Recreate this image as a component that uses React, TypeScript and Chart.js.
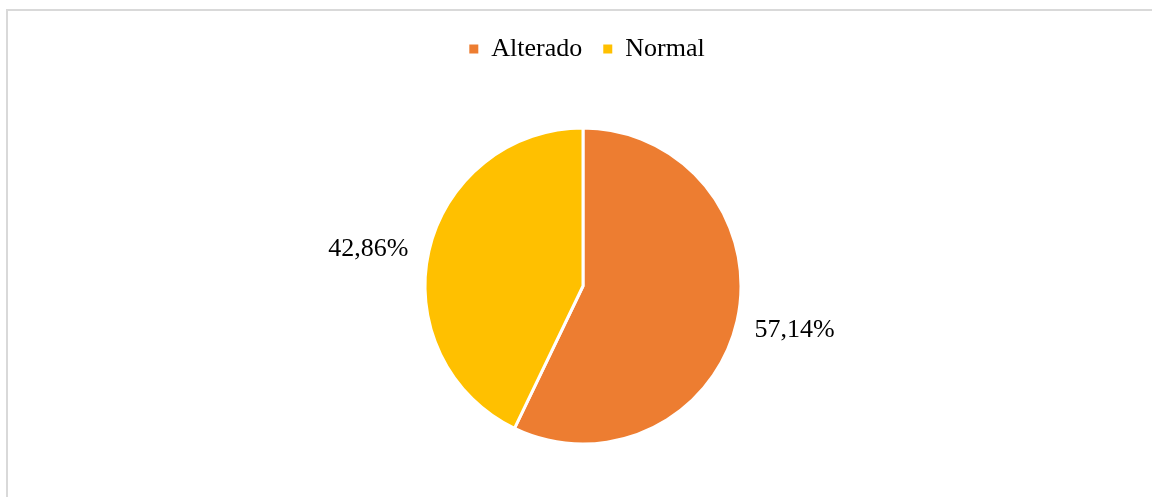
import React, { useEffect, useRef } from "react";
import { Chart, registerables } from "chart.js";

Chart.register(...registerables);

const categories = ["Alterado", "Normal"];
const values = [57.14, 42.86];
const valueLabels = ["57,14%", "42,86%"];
const colors = ["#ED7D31", "#FFC000"];

const FONT = "'Liberation Serif', 'Times New Roman', serif";

const outsideLabels = {
  id: "outsideLabels",
  afterLayout(chart: any) {
    if (chart.legend) {
      chart.legend.left += 4;
      chart.legend.right += 4;
    }
  },
  afterDatasetsDraw(chart: any) {
    const { ctx } = chart;
    const meta = chart.getDatasetMeta(0);
    ctx.save();
    ctx.font = `26px ${FONT}`;
    ctx.fillStyle = "#000000";
    ctx.textBaseline = "middle";
    meta.data.forEach((arc: any, i: number) => {
      const { x, y, startAngle, endAngle, outerRadius } = arc.getProps(
        ["x", "y", "startAngle", "endAngle", "outerRadius"],
        true
      );
      const mid = (startAngle + endAngle) / 2;
      const d = outerRadius + 19;
      const lx = x + Math.cos(mid) * d;
      const ly = y + Math.sin(mid) * d + (Math.sin(mid) >= 0 ? 5 : 3);
      ctx.textAlign = Math.cos(mid) >= 0 ? "left" : "right";
      ctx.fillText(valueLabels[i], lx + (Math.cos(mid) >= 0 ? -1 : -2), ly);
    });
    ctx.restore();
  },
};

export default function App() {
  const ref = useRef<HTMLCanvasElement | null>(null);

  useEffect(() => {
    if (!ref.current) return;
    const chart = new Chart(ref.current, {
      type: "pie",
      data: {
        labels: categories,
        datasets: [
          {
            data: values,
            backgroundColor: colors,
            borderColor: "#FFFFFF",
            borderWidth: 3,
            radius: 158,
          } as any,
        ],
      },
      options: {
        animation: false,
        responsive: false,
        maintainAspectRatio: false,
        layout: { padding: { left: 14, top: 15, right: 0, bottom: 0 } },
        plugins: {
          legend: {
            position: "top",
            labels: {
              font: { family: FONT, size: 26 },
              color: "#000000",
              boxWidth: 9,
              boxHeight: 9,
              padding: 21,
              generateLabels(chart: any) {
                const items = Chart.overrides.pie.plugins.legend.labels.generateLabels(chart);
                return items.map((it: any) => ({ ...it, lineWidth: 0, strokeStyle: it.fillStyle }));
              },
            },
          },
          tooltip: { enabled: false },
        },
      },
      plugins: [outsideLabels],
    });
    return () => chart.destroy();
  }, []);

  return (
    <div
      style={{
        position: "fixed",
        left: 0,
        top: 0,
        width: 1152,
        height: 497,
        overflow: "hidden",
        background: "#FFFFFF",
      }}
    >
      <canvas
        ref={ref}
        width={1152}
        height={500}
        style={{ position: "absolute", left: 0, top: 0, width: 1152, height: 500 }}
      />
      <div
        style={{
          position: "absolute",
          left: 6,
          top: 9,
          width: 1200,
          height: 600,
          border: "2px solid #D9D9D9",
          boxSizing: "border-box",
          pointerEvents: "none",
        }}
      />
    </div>
  );
}
